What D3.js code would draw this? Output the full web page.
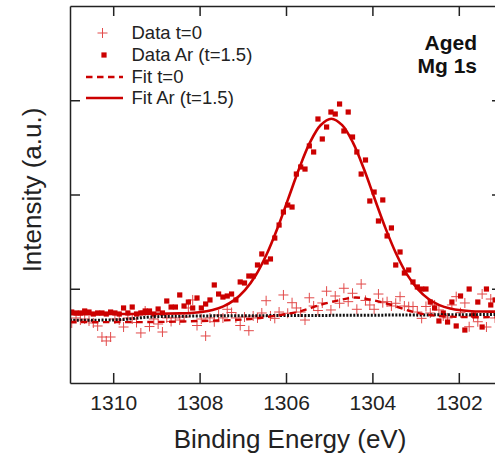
<!DOCTYPE html>
<html>
<head>
<meta charset="utf-8">
<script src="https://cdn.jsdelivr.net/npm/d3@7"></script>
<style>
  body { margin: 0; background: #fff; }
  svg { display: block; font-family: "Liberation Sans", Arial, sans-serif; }
</style>
</head>
<body>
<div id="chart"></div>
<script>
// binding energy grid of the measured spectra (eV)
var energy = [
  1310.96,1310.86,1310.76,1310.66,1310.56,1310.46,1310.36,1310.26,1310.16,1310.06,
  1309.96,1309.86,1309.76,1309.66,1309.56,1309.46,1309.36,1309.26,1309.16,1309.06,
  1308.96,1308.86,1308.76,1308.66,1308.56,1308.46,1308.36,1308.26,1308.16,1308.06,
  1307.96,1307.86,1307.76,1307.66,1307.56,1307.46,1307.36,1307.26,1307.16,1307.06,
  1306.96,1306.86,1306.76,1306.66,1306.56,1306.46,1306.36,1306.26,1306.16,1306.06,
  1305.96,1305.86,1305.76,1305.66,1305.56,1305.46,1305.36,1305.26,1305.16,1305.06,
  1304.96,1304.86,1304.76,1304.66,1304.56,1304.46,1304.36,1304.26,1304.16,1304.06,
  1303.96,1303.86,1303.76,1303.66,1303.56,1303.46,1303.36,1303.26,1303.16,1303.06,
  1302.96,1302.86,1302.76,1302.66,1302.56,1302.46,1302.36,1302.26,1302.16,1302.06,
  1301.96,1301.86,1301.76,1301.66,1301.56,1301.46,1301.36,1301.26,1301.16,1301.06
];

// Data t=0 (plus markers)
var dataT0 = [
  637,690,668,679,658,637,605,488,446,488,
  679,668,594,690,679,642,531,764,599,679,
  626,541,690,653,690,668,700,796,881,610,
  679,499,690,650,721,690,782,748,690,610,
  700,555,711,690,743,873,711,686,753,934,
  740,852,796,753,668,904,817,769,849,974,
  775,923,846,1005,863,952,782,1050,876,828,
  782,944,852,863,817,846,916,817,810,812,
  753,686,812,743,828,775,711,690,828,916,
  746,849,597,711,650,944,594,891,690,721
];

// Data Ar (t=1.5) (square markers)
var dataAr = [
  753,743,743,764,753,732,743,743,732,753,
  743,732,796,743,806,732,743,764,764,732,
  785,743,870,806,806,934,817,859,796,902,
  796,838,881,1040,944,912,923,944,881,1072,
  1061,1135,1135,1252,1369,1284,1316,1538,1676,1814,
  1888,1867,2217,2292,2270,2515,2451,2801,2589,2716,
  2875,2854,2960,2674,2875,2610,2451,2217,2366,1931,
  2026,1719,1942,1560,1645,1252,1390,1167,1199,1072,
  1019,997,997,859,796,658,743,647,859,605,
  923,562,997,721,859,594,997,828,881,753
];

// Fit Ar (t=1.5)
var fitArE = [1311.0,1310.0,1309.0,1308.45,1308.2,1307.95,1307.7,1307.45,1307.2,1306.95,
  1306.7,1306.45,1306.2,1305.95,1305.7,1305.45,1305.2,1304.95,1304.7,1304.45,1304.2,
  1303.95,1303.7,1303.45,1303.2,1302.95,1302.7,1302.45,1302.2,1301.95,1301.7,1301.45,1301.0];
var fitArI = [729,732,734,739,743,754,775,813,879,985,
  1143,1363,1639,1953,2270,2547,2735,2804,2736,2550,2275,
  1958,1646,1372,1153,996,891,826,790,771,761,758,757];

// Fit t=0
var fitT0E = [1311.0,1309.15,1307.99,1306.83,1306.14,1305.68,1305.21,1304.75,1304.40,1304.06,1303.59,1303.13,1302.67,1301.97,1301.0];
var fitT0I = [647,647,658,679,721,759,828,881,907,886,833,764,721,700,700];

// background (black dotted)
var bgE = [1311.0,1309.84,1309.15,1307.99,1305.68,1303.36,1301.0];
var bgI = [666,672,700,711,716,721,727];

var xTicks = [1310, 1308, 1306, 1304, 1302];
var yTicks = [1000, 2000, 3000];

var legendItems = ["Data t=0", "Data Ar (t=1.5)", "Fit t=0", "Fit Ar (t=1.5)"];

var width = 495, height = 457;
var pLeft = 70, pRight = 502, pTop = 6, pBottom = 383;
var red = "#cc0000";

var svg = d3.select("#chart").append("svg")
  .attr("width", width)
  .attr("height", height);

var x = d3.scaleLinear().domain([1311, 1301]).range([pLeft, pRight]);
var y = d3.scaleLinear().domain([0, 4000]).range([pBottom, pTop]);

svg.append("clipPath").attr("id", "clip")
  .append("rect")
  .attr("x", pLeft).attr("y", pTop)
  .attr("width", pRight - pLeft).attr("height", pBottom - pTop);

var plot = svg.append("g").attr("clip-path", "url(#clip)");

// plus markers
plot.append("g").selectAll("path")
  .data(energy)
  .enter().append("path")
  .attr("d", function(d, i) {
    var cx = x(d), cy = y(dataT0[i]);
    return "M" + (cx - 5) + "," + cy + "H" + (cx + 5) + "M" + cx + "," + (cy - 5) + "V" + (cy + 5);
  })
  .attr("stroke", "#e24a4a")
  .attr("stroke-width", 1)
  .attr("fill", "none");

// square markers
plot.append("g").selectAll("rect")
  .data(energy)
  .enter().append("rect")
  .attr("x", function(d) { return x(d) - 2.6; })
  .attr("y", function(d, i) { return y(dataAr[i]) - 2.6; })
  .attr("width", 5.2)
  .attr("height", 5.2)
  .attr("fill", red);

var line = d3.line()
  .x(function(d) { return x(d[0]); })
  .y(function(d) { return y(d[1]); })
  .curve(d3.curveCatmullRom);

plot.append("path")
  .datum(d3.zip(bgE, bgI))
  .attr("d", line)
  .attr("fill", "none")
  .attr("stroke", "#111")
  .attr("stroke-width", 3)
  .attr("stroke-dasharray", "2,1.5");

plot.append("path")
  .datum(d3.zip(fitT0E, fitT0I))
  .attr("d", line)
  .attr("fill", "none")
  .attr("stroke", red)
  .attr("stroke-width", 2.4)
  .attr("stroke-dasharray", "6.5,4.5");

plot.append("path")
  .datum(d3.zip(fitArE, fitArI))
  .attr("d", line)
  .attr("fill", "none")
  .attr("stroke", red)
  .attr("stroke-width", 2.6);

// axes, ticks pointing inward
var axisColor = "#222";
var gx = svg.append("g")
  .attr("transform", "translate(0," + pBottom + ")")
  .call(d3.axisBottom(x).tickValues(xTicks).tickSizeInner(-10).tickSizeOuter(0).tickPadding(12).tickFormat(d3.format("d")));
var gxt = svg.append("g")
  .attr("transform", "translate(0," + pTop + ")")
  .call(d3.axisTop(x).tickValues(xTicks).tickSizeInner(-10).tickSizeOuter(0).tickFormat(""));
var gy = svg.append("g")
  .attr("transform", "translate(" + pLeft + ",0)")
  .call(d3.axisLeft(y).tickValues(yTicks).tickSizeInner(-10).tickSizeOuter(0).tickFormat(""));
var gyr = svg.append("g")
  .attr("transform", "translate(" + pRight + ",0)")
  .call(d3.axisRight(y).tickValues(yTicks).tickSizeInner(-10).tickSizeOuter(0).tickFormat(""));

[gx, gxt, gy, gyr].forEach(function(g) {
  g.selectAll(".domain").attr("stroke", axisColor).attr("stroke-width", 1.5);
  g.selectAll(".tick line").attr("stroke", axisColor).attr("stroke-width", 1.5);
});
gx.selectAll(".tick text")
  .attr("fill", "#222")
  .style("font-size", "21px")
  .style("font-family", "Liberation Sans, Arial, sans-serif");

// axis titles
svg.append("text")
  .attr("x", 290)
  .attr("y", 448)
  .attr("text-anchor", "middle")
  .attr("fill", "#222")
  .style("font-size", "26px")
  .text("Binding Energy (eV)");

svg.append("text")
  .attr("transform", "translate(41,190) rotate(-90)")
  .attr("text-anchor", "middle")
  .attr("fill", "#222")
  .style("font-size", "26px")
  .text("Intensity (a.u.)");

// sample label
svg.append("text")
  .attr("x", 477).attr("y", 50)
  .attr("text-anchor", "end")
  .attr("fill", "#111")
  .style("font-size", "21px")
  .style("font-weight", "bold")
  .text("Aged");
svg.append("text")
  .attr("x", 477).attr("y", 73)
  .attr("text-anchor", "end")
  .attr("fill", "#111")
  .style("font-size", "21px")
  .style("font-weight", "bold")
  .text("Mg 1s");

// legend
var legend = svg.append("g");
var rowY = [33, 55, 77, 98];
legendItems.forEach(function(name, i) {
  var g = legend.append("g").attr("transform", "translate(0," + rowY[i] + ")");
  if (i === 0) {
    g.append("path").attr("d", "M97.5,0H107.5M102.5,-5V5")
      .attr("stroke", "#e24a4a").attr("stroke-width", 1).attr("fill", "none");
  } else if (i === 1) {
    g.append("rect").attr("x", 101.4).attr("y", -2.6).attr("width", 5.2).attr("height", 5.2).attr("fill", red);
  } else {
    g.append("line").attr("x1", 86).attr("x2", 123).attr("y1", 0).attr("y2", 0)
      .attr("stroke", red).attr("stroke-width", i === 2 ? 2.4 : 2.6)
      .attr("stroke-dasharray", i === 2 ? "6.5,4.5" : null);
  }
  g.append("text")
    .attr("x", 131.5)
    .attr("y", 0)
    .attr("dy", "0.35em")
    .attr("fill", "#222")
    .style("font-size", "18.5px")
    .text(name);
});
</script>
</body>
</html>
